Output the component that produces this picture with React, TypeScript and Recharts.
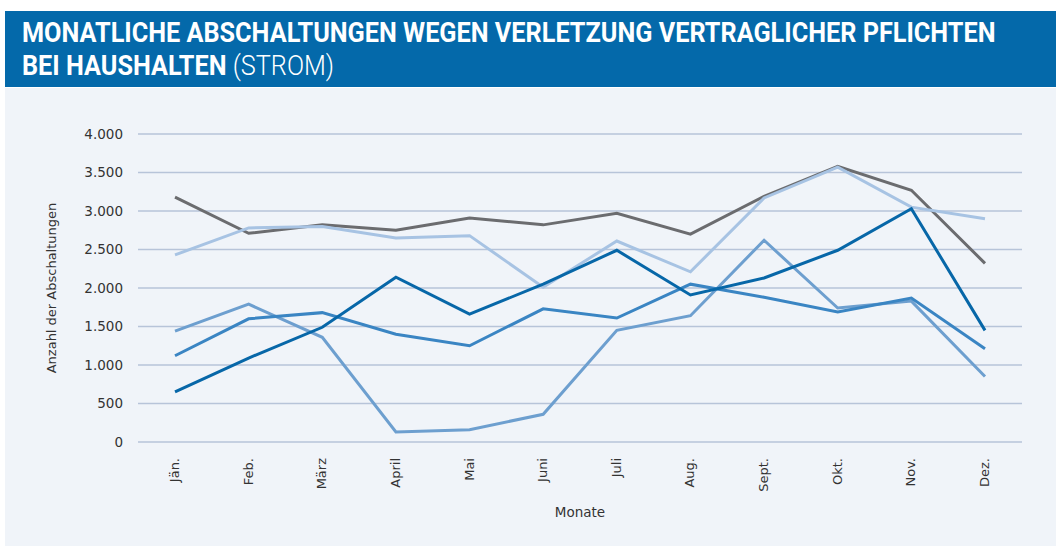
import { LineChart, Line, XAxis, YAxis, CartesianGrid } from "recharts";

const months = ["Jän.", "Feb.", "März", "April", "Mai", "Juni", "Juli", "Aug.", "Sept.", "Okt.", "Nov.", "Dez."];
const yTicks = [0, 500, 1000, 1500, 2000, 2500, 3000, 3500, 4000];

const grau = [3180, 2710, 2820, 2750, 2910, 2820, 2970, 2700, 3190, 3580, 3270, 2320];
const hellblau = [2430, 2780, 2800, 2650, 2680, 2010, 2610, 2210, 3170, 3570, 3050, 2900];
const dunkelblau = [650, 1090, 1490, 2140, 1660, 2050, 2490, 1910, 2130, 2490, 3030, 1450];
const mittelblau = [1120, 1600, 1680, 1400, 1250, 1730, 1610, 2050, 1880, 1690, 1870, 1210];
const blau = [1440, 1790, 1360, 130, 160, 360, 1450, 1640, 2620, 1740, 1830, 850];

const data = months.map((m, i) => ({
  m,
  grau: grau[i],
  hellblau: hellblau[i],
  dunkelblau: dunkelblau[i],
  mittelblau: mittelblau[i],
  blau: blau[i],
}));

const font = "'DejaVu Sans', sans-serif";
const gridColor = "#b7c4d9";

const fmt = (v: number) => v.toLocaleString("de-DE");

function MonthTick({ x, y, payload }: any) {
  return (
    <text
      x={x}
      y={y}
      transform={`rotate(-90, ${x}, ${y})`}
      textAnchor="end"
      dy={4}
      fontSize={13}
      fontFamily={font}
      fill="#333"
    >
      {payload.value}
    </text>
  );
}

export default function App() {
  return (
    <div style={{ position: "absolute", left: 0, top: 0, width: 1056, height: 549, background: "#fff" }}>
      <div
        style={{
          position: "absolute",
          left: 5,
          top: 11,
          width: 1051,
          height: 76,
          background: "#0469aa",
          color: "#fff",
          fontFamily: "Roboto, sans-serif",
          fontSize: 27,
          lineHeight: "33px",
        }}
      >
        <div style={{ position: "absolute", left: 17, top: 6, transform: "scaleX(0.935)", transformOrigin: "left", whiteSpace: "nowrap" }}>
          <b>MONATLICHE ABSCHALTUNGEN WEGEN VERLETZUNG VERTRAGLICHER PFLICHTEN</b>
        </div>
        <div style={{ position: "absolute", left: 17, top: 39, transform: "scaleX(0.935)", transformOrigin: "left", whiteSpace: "nowrap" }}>
          <b>BEI HAUSHALTEN</b> <span style={{ fontWeight: 300 }}>(STROM)</span>
        </div>
      </div>
      <div style={{ position: "absolute", left: 5, top: 88, width: 1051, height: 458, background: "#f0f4f9" }} />
      <div style={{ position: "absolute", left: 0, top: 0 }}>
        <LineChart width={1056} height={549} data={data} margin={{ top: 134, right: 34, bottom: 47, left: 78 }}>
          <CartesianGrid horizontal vertical={false} stroke={gridColor} strokeWidth={1.5} />
          <XAxis
            dataKey="m"
            interval={0}
            tick={<MonthTick />}
            tickLine={false}
            axisLine={false}
            height={60}
            tickMargin={10}
            padding={{ left: 37, right: 37 }}
          />
          <XAxis
            xAxisId="b"
            type="number"
            domain={[0, 12]}
            ticks={[0, 1, 2, 3, 4, 5, 6, 7, 8, 9, 10, 11, 12]}
            tick={() => <g />}
            tickSize={5}
            tickLine={{ stroke: gridColor }}
            axisLine={{ stroke: gridColor, strokeWidth: 1.5 }}
            height={0}
            orientation="bottom"
          />
          <YAxis
            domain={[0, 4000]}
            ticks={yTicks}
            tickFormatter={fmt}
            tickLine={false}
            axisLine={false}
            tickSize={0}
            tickMargin={15}
            width={60}
            tick={{ fontSize: 13.5, fontFamily: font, fill: "#333" }}
          />
          <Line dataKey="grau" stroke="#6b6c6f" strokeWidth={3} dot={false} isAnimationActive={false} />
          <Line dataKey="hellblau" stroke="#a7c3e3" strokeWidth={3} dot={false} isAnimationActive={false} />
          <Line dataKey="blau" stroke="#6d9fcf" strokeWidth={3} dot={false} isAnimationActive={false} />
          <Line dataKey="mittelblau" stroke="#3a85c3" strokeWidth={3} dot={false} isAnimationActive={false} />
          <Line dataKey="dunkelblau" stroke="#0767a8" strokeWidth={3} dot={false} isAnimationActive={false} />
          <text x={52} y={288} transform="rotate(-90, 52, 288)" textAnchor="middle" dominantBaseline="middle" fontSize={13} fontFamily={font} fill="#333">
            Anzahl der Abschaltungen
          </text>
          <text x={580} y={513} textAnchor="middle" dominantBaseline="middle" fontSize={13.5} fontFamily={font} fill="#333">
            Monate
          </text>
        </LineChart>
      </div>
    </div>
  );
}
